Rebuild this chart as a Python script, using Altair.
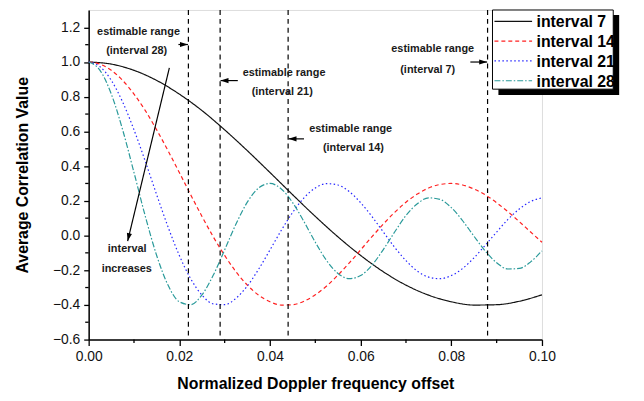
import altair as alt
import pandas as pd

FONT = "Liberation Sans"

# ---------------- data ----------------
series_names = ["interval 7", "interval 14", "interval 21", "interval 28"]
series_colors = ["#111111", "#ff2020", "#2525ff", "#2a9a9a"]
series_dashes = [[1, 0], [4, 3], [1.5, 2.5], [6, 2, 1.5, 2]]

x_coarse = [0.0, 0.005, 0.01, 0.015, 0.02, 0.025, 0.03, 0.035, 0.04, 0.045, 0.05,
            0.055, 0.06, 0.065, 0.07, 0.075, 0.08, 0.085, 0.09, 0.095, 0.1]
x_fine = [0.0, 0.0025, 0.005, 0.0075, 0.01, 0.0125, 0.015, 0.0175, 0.02, 0.0225,
          0.025, 0.0275, 0.03, 0.0325, 0.035, 0.0375, 0.04, 0.0425, 0.045, 0.0475,
          0.05, 0.0525, 0.055, 0.0575, 0.06, 0.0625, 0.065, 0.0675, 0.07, 0.0725,
          0.075, 0.0775, 0.08, 0.0825, 0.085, 0.0875, 0.09, 0.0925, 0.095, 0.0975, 0.1]

y7 = [1.000, 0.988, 0.952, 0.894, 0.815, 0.720, 0.609, 0.489, 0.363, 0.235, 0.110,
      -0.008, -0.115, -0.209, -0.286, -0.344, -0.382, -0.401, -0.399, -0.379, -0.342]
y14 = [1.000, 0.988, 0.952, 0.894, 0.815, 0.720, 0.609, 0.489, 0.363, 0.235, 0.110,
       -0.008, -0.115, -0.209, -0.286, -0.344, -0.382, -0.401, -0.399, -0.379, -0.342,
       -0.291, -0.228, -0.158, -0.083, -0.007, 0.066, 0.133, 0.192, 0.239, 0.274,
       0.294, 0.300, 0.291, 0.268, 0.234, 0.189, 0.137, 0.080, 0.020, -0.039]
y21 = [1.000, 0.973, 0.894, 0.769, 0.609, 0.427, 0.235, 0.050, -0.115, -0.249, -0.344,
       -0.394, -0.399, -0.362, -0.291, -0.194, -0.083, 0.030, 0.133, 0.217, 0.274,
       0.299, 0.291, 0.253, 0.189, 0.109, 0.020, -0.068, -0.145, -0.205, -0.240,
       -0.249, -0.231, -0.190, -0.129, -0.056, 0.020, 0.093, 0.153, 0.196, 0.217]
y28 = [1.000, 0.952, 0.815, 0.609, 0.363, 0.110, -0.115, -0.286, -0.382, -0.399, -0.342,
       -0.228, -0.083, 0.066, 0.192, 0.274, 0.300, 0.268, 0.189, 0.080, -0.039,
       -0.145, -0.219, -0.249, -0.231, -0.171, -0.081, 0.020, 0.115, 0.183, 0.217,
       0.208, 0.161, 0.085, -0.004, -0.090, -0.157, -0.193, -0.190, -0.152, -0.088]

range_x = [0.022, 0.029, 0.044, 0.088]

x_major = [0.0, 0.02, 0.04, 0.06, 0.08, 0.1]
x_minor = [0.01, 0.03, 0.05, 0.07, 0.09]
y_major = [-0.6, -0.4, -0.2, 0.0, 0.2, 0.4, 0.6, 0.8, 1.0, 1.2]
y_minor = [-0.5, -0.3, -0.1, 0.1, 0.3, 0.5, 0.7, 0.9, 1.1]

note_text = ["estimable range", "(interval 28)", "estimable range", "(interval 21)",
             "estimable range", "(interval 14)", "estimable range", "(interval 7)",
             "interval", "increases"]
note_x = [0.0110, 0.0106, 0.0431, 0.0427, 0.0578, 0.0584, 0.0759, 0.0748, 0.0085, 0.0084]
note_y = [1.174, 1.062, 0.938, 0.826, 0.613, 0.506, 1.073, 0.955, -0.077, -0.195]

arrow_x1 = [0.0198, 0.0329, 0.0475, 0.0842, 0.0178]
arrow_y1 = [1.101, 0.893, 0.557, 1.000, 0.966]
arrow_x2 = [0.0219, 0.0291, 0.0441, 0.0879, 0.0086]
arrow_y2 = [1.101, 0.893, 0.557, 1.000, -0.032]
arrow_angle = [0, 180, 180, 0, 103]

# ---------------- frames ----------------
rows = []
for name, xs, ys in [("interval 7", x_coarse, y7), ("interval 14", x_fine, y14),
                     ("interval 21", x_fine, y21), ("interval 28", x_fine, y28)]:
    for xv, yv in zip(xs, ys):
        rows.append({"x": xv, "y": yv, "series": name})
lines_df = pd.DataFrame(rows)

notes_df = pd.DataFrame({"x": note_x, "y": note_y, "text": note_text})
arrows_df = pd.DataFrame({"x1": arrow_x1, "y1": arrow_y1, "x2": arrow_x2,
                          "y2": arrow_y2, "angle": arrow_angle})
rules_df = pd.DataFrame({"x": range_x})
xminor_df = pd.DataFrame({"x": x_minor})
yminor_df = pd.DataFrame({"y": y_minor})

W, H = 458, 333

xscale = alt.Scale(domain=[0, 0.1], nice=False, zero=False)
yscale = alt.Scale(domain=[-0.6, 1.3], nice=False, zero=False)

xaxis = alt.Axis(
    values=x_major, format=".2f", tickSize=6,
    labelFont=FONT, labelFontSize=14, labelColor="#111", labelPadding=4,
    labelFlush=False, labelOverlap=False,
    domainColor="#000", domainWidth=1.5, tickColor="#000", tickWidth=1.3,
    grid=False, title="Normalized Doppler frequency offset",
    titleFont=FONT, titleFontSize=16, titleFontWeight="bold", titleColor="#000",
    titlePadding=12,
)
yaxis = alt.Axis(
    values=y_major, format=".1f", tickSize=5,
    labelFont=FONT, labelFontSize=14, labelColor="#111", labelPadding=4,
    labelOverlap=False,
    domainColor="#000", domainWidth=1.5, tickColor="#000", tickWidth=1.3,
    grid=False, title="Average Correlation Value",
    titleFont=FONT, titleFontSize=16, titleFontWeight="bold", titleColor="#000",
    titlePadding=22,
)


def X(field):
    return alt.X(field, scale=xscale, axis=xaxis)


def Y(field):
    return alt.Y(field, scale=yscale, axis=yaxis)


lines = alt.Chart(lines_df).mark_line(strokeWidth=1.2, interpolate="monotone").encode(
    x=X("x:Q"),
    y=Y("y:Q"),
    color=alt.Color("series:N", scale=alt.Scale(domain=series_names, range=series_colors), legend=None),
    strokeDash=alt.StrokeDash("series:N", scale=alt.Scale(domain=series_names, range=series_dashes), legend=None),
)

xminor = alt.Chart(xminor_df).mark_rule(color="#000", strokeWidth=1.3).encode(
    x=X("x:Q"), y=alt.value(H), y2=alt.value(H + 3.5)
)
yminor = alt.Chart(yminor_df).mark_rule(color="#000", strokeWidth=1.3).encode(
    y=Y("y:Q"), x=alt.value(-3.5), x2=alt.value(0)
)

vrules = alt.Chart(rules_df).mark_rule(color="#000", strokeWidth=1.2, strokeDash=[5, 4]).encode(
    x=X("x:Q")
)

notes = alt.Chart(notes_df).mark_text(font=FONT, fontSize=11, fontWeight="bold", color="#1a1a1a").encode(
    x=X("x:Q"), y=Y("y:Q"), text="text:N"
)

arrow_lines = alt.Chart(arrows_df).mark_rule(color="#000", strokeWidth=1.2).encode(
    x=X("x1:Q"), y=Y("y1:Q"), x2="x2:Q", y2="y2:Q"
)
arrow_heads = alt.Chart(arrows_df).mark_point(
    shape="M0,0L-2,-0.65L-2,0.65Z", filled=True, color="#000", opacity=1, size=64
).encode(
    x=X("x2:Q"), y=Y("y2:Q"),
    angle=alt.Angle("angle:Q", scale=None),
)

# ---------------- legend (drawn box with shadow) ----------------
one = alt.Data(values=[{}])
lx1, lx2, ly1, ly2 = 408, 530, 0, 80
shadow = alt.Chart(one).mark_rect(color="#000").encode(
    x=alt.value(lx1 + 6), x2=alt.value(lx2 + 6), y=alt.value(ly1 + 5), y2=alt.value(ly2 + 6)
)
box = alt.Chart(one).mark_rect(fill="#fff", stroke="#000", strokeWidth=1).encode(
    x=alt.value(lx1), x2=alt.value(lx2), y=alt.value(ly1), y2=alt.value(ly2)
)
legend_layers = [shadow, box]
for i, (name, col, dash) in enumerate(zip(series_names, series_colors, series_dashes)):
    yy = 11.5 + 20 * i
    legend_layers.append(
        alt.Chart(one).mark_rule(color=col, strokeWidth=1.2, strokeDash=dash).encode(
            x=alt.value(410), x2=alt.value(448), y=alt.value(yy)
        )
    )
    legend_layers.append(
        alt.Chart(one).mark_text(text=name, font=FONT, fontSize=16, fontWeight="bold",
                                 color="#000", align="left", baseline="middle").encode(
            x=alt.value(452.5), y=alt.value(yy + 1)
        )
    )

chart = alt.layer(lines, xminor, yminor, vrules, notes, arrow_lines, arrow_heads,
                  *legend_layers).properties(
    width=W, height=H,
    autosize=alt.AutoSizeParams(type="none"),
    padding={"left": 81.5, "top": 0, "right": 95, "bottom": 55},
).configure_view(stroke="#000", strokeWidth=1.5).configure(background="#ffffff")

chart.save("out.html", embed_options={"renderer": "svg", "actions": False})
